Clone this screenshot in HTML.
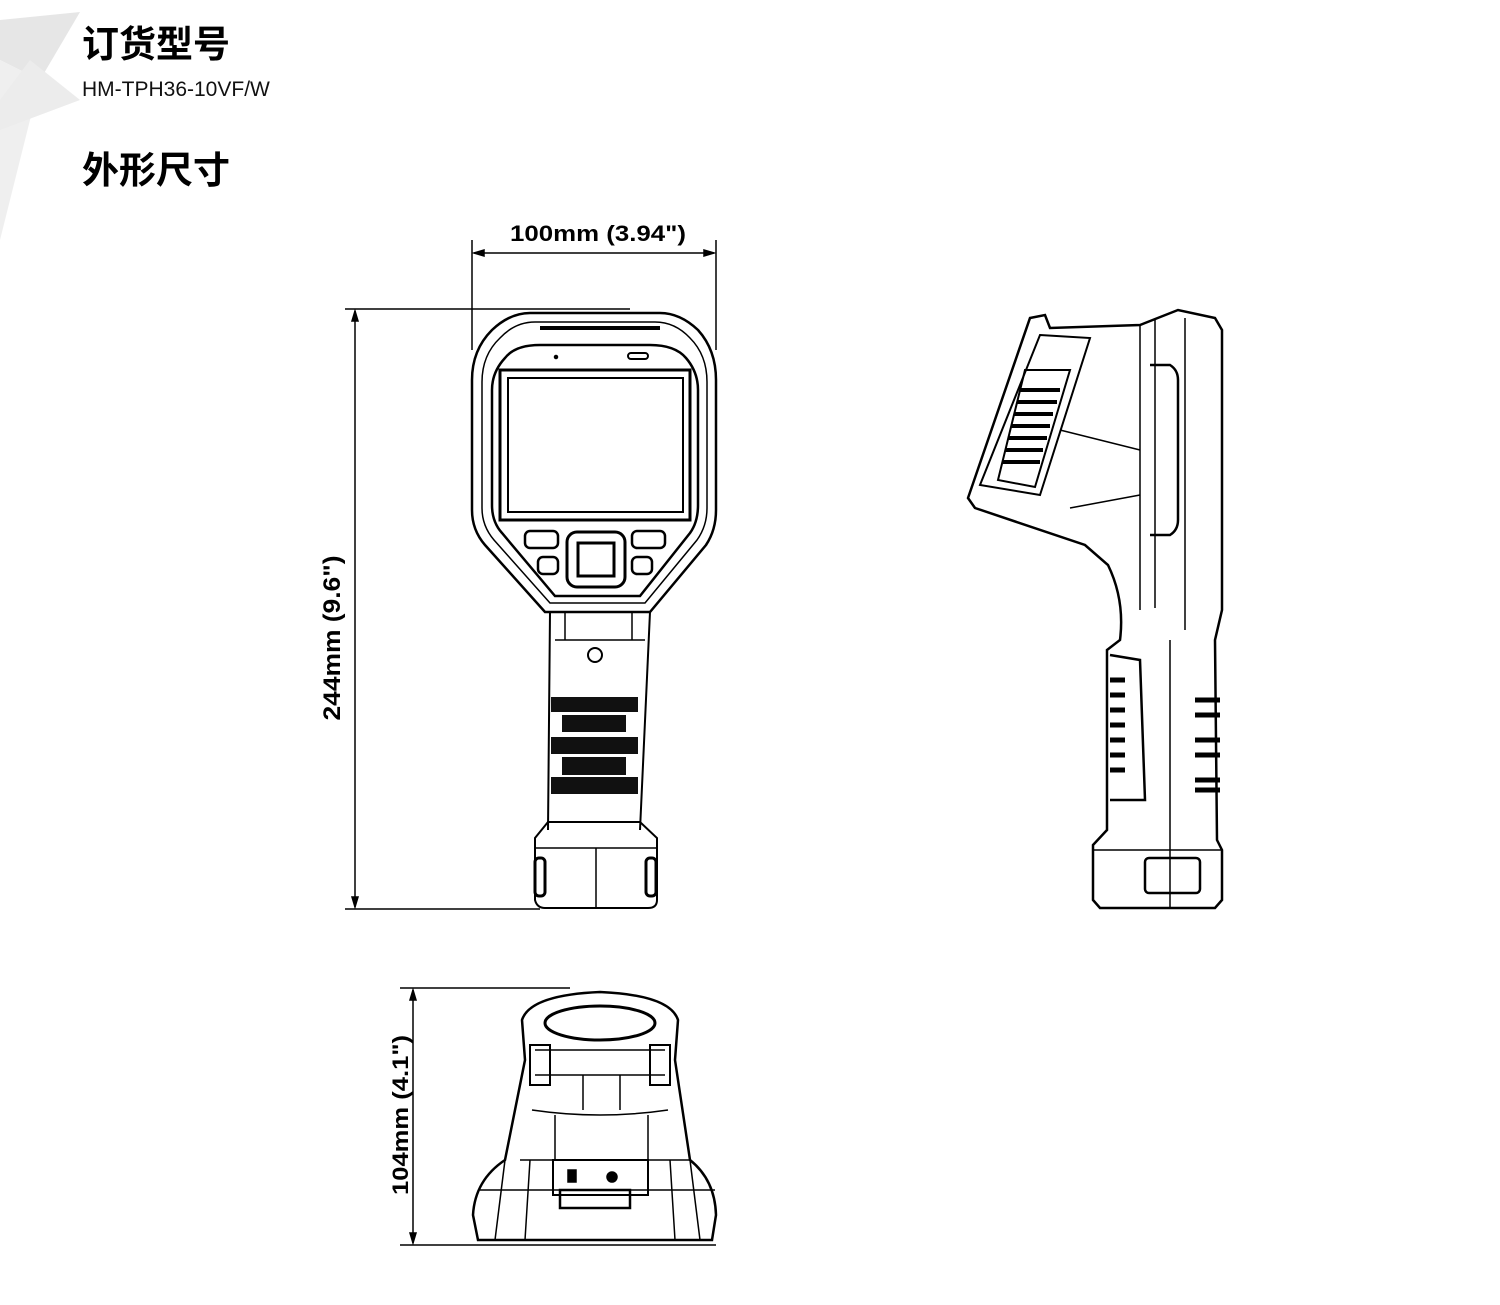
<!DOCTYPE html>
<html><head><meta charset="utf-8"><style>
html,body{margin:0;padding:0;background:#fff;width:1500px;height:1305px;overflow:hidden}
svg{position:absolute;left:0;top:0}
.t1{position:absolute;left:82px;font-family:"Liberation Sans","Noto Sans CJK SC",sans-serif;font-weight:bold;font-size:37px;color:#000;line-height:1}
.t2{position:absolute;left:82px;top:78px;font-family:"Liberation Sans","Noto Sans CJK SC",sans-serif;font-size:21px;color:#111}
</style></head><body>
<svg width="1500" height="1305" viewBox="0 0 1500 1305">
<g fill="#e6e6e6">
<polygon points="0,20 80,12 40,80 0,60"/>
<polygon points="0,60 40,80 0,240" fill="#efefef"/>
<polygon points="0,100 30,60 80,100 0,130" fill="#ececec"/>
</g>
<g fill="none" stroke="#000" stroke-width="1.5">
<line x1="472" y1="240" x2="472" y2="350"/><line x1="716" y1="240" x2="716" y2="350"/>
<line x1="474" y1="253" x2="714" y2="253"/>
<path d="M474 253 l10 -3 v6z M714 253 l-10 -3 v6z" fill="#000"/>
<line x1="345" y1="309" x2="630" y2="309"/><line x1="345" y1="909" x2="540" y2="909"/>
<line x1="355" y1="311" x2="355" y2="907"/>
<path d="M355 311 l-3 10 h6z M355 907 l-3 -10 h6z" fill="#000"/>
<path d="M530 313 Q510 313 492 330 Q472 350 472 380 L472 510 Q472 530 485 545 L545 612 L650 612 L706 545 Q716 530 716 510 L716 380 Q716 350 698 330 Q680 313 660 313 Z" stroke-width="2.5"/>
<path d="M535 322 Q515 322 500 338 Q482 355 482 382 L482 508 Q482 526 494 540 L550 603 L645 603 L697 540 Q707 526 707 508 L707 382 Q707 355 690 338 Q675 322 655 322 Z"/>
<path d="M540 345 Q515 345 505 358 Q492 372 492 390 L492 505 Q492 522 502 533 L555 596 L640 596 L690 533 Q698 522 698 505 L698 390 Q698 372 686 358 Q675 345 650 345 Z" stroke-width="2.5"/>
<line x1="540" y1="328" x2="660" y2="328" stroke-width="4"/>
<rect x="500" y="370" width="190" height="150" stroke-width="3"/>
<rect x="508" y="378" width="175" height="134" stroke-width="2"/>
<circle cx="556" cy="357" r="1.5" fill="#000"/>
<rect x="628" y="353" width="20" height="6" rx="3" stroke-width="2"/>
<rect x="525" y="531" width="33" height="17" rx="5" stroke-width="2.5"/>
<rect x="538" y="557" width="20" height="17" rx="5" stroke-width="2.5"/>
<rect x="632" y="531" width="33" height="17" rx="5" stroke-width="2.5"/>
<rect x="632" y="557" width="20" height="17" rx="5" stroke-width="2.5"/>
<rect x="567" y="532" width="58" height="55" rx="10" stroke-width="3"/>
<rect x="578" y="543" width="36" height="33" stroke-width="3"/>
<path d="M550 612 L548 830 M650 612 L640 830" stroke-width="2"/>
<line x1="555" y1="640" x2="645" y2="640"/>
<line x1="565" y1="612" x2="565" y2="640"/><line x1="632" y1="612" x2="632" y2="640"/>
<circle cx="595" cy="655" r="7" stroke-width="2"/>
<g fill="#111" stroke="none">
<rect x="551" y="697" width="87" height="15"/><rect x="562" y="715" width="64" height="17"/>
<rect x="551" y="737" width="87" height="17"/><rect x="562" y="757" width="64" height="18"/>
<rect x="551" y="777" width="87" height="17"/>
</g>
<path d="M548 822 L535 838 L535 900 Q537 908 545 908 L648 908 Q657 908 657 900 L657 838 L640 822 Z" stroke-width="2"/>
<line x1="535" y1="848" x2="657" y2="848"/><line x1="596" y1="848" x2="596" y2="908"/>
<rect x="535" y="858" width="10" height="38" rx="4" stroke-width="3"/>
<rect x="646" y="858" width="10" height="38" rx="4" stroke-width="3"/>
<path d="M1030 318 L1045 315 L1050 328 L1140 325 L1178 310 L1215 318 L1222 330 L1222 610 L1215 640 L1217 840 L1222 850 L1222 900 L1215 908 L1100 908 L1093 900 L1093 845 L1107 830 L1107 650 L1120 640 Q1125 600 1108 565 L1085 545 L975 508 L968 498 Z" stroke-width="2.5"/>
<path d="M1040 335 L1090 338 L1040 495 L980 485 Z" stroke-width="2"/>
<path d="M1025 370 L1070 370 L1035 487 L998 480 Z" stroke-width="2"/>
<g stroke-width="4"><line x1="1020" y1="390" x2="1060" y2="390"/><line x1="1017" y1="402" x2="1057" y2="402"/><line x1="1014" y1="414" x2="1053" y2="414"/><line x1="1011" y1="426" x2="1050" y2="426"/><line x1="1008" y1="438" x2="1047" y2="438"/><line x1="1005" y1="450" x2="1043" y2="450"/><line x1="1002" y1="462" x2="1040" y2="462"/></g>
<line x1="1140" y1="325" x2="1140" y2="610"/><line x1="1155" y1="320" x2="1155" y2="608"/>
<line x1="1185" y1="318" x2="1185" y2="630"/>
<path d="M1150 365 L1170 365 Q1178 370 1178 380 L1178 520 Q1178 530 1170 535 L1150 535" stroke-width="2.5"/>
<line x1="1060" y1="430" x2="1140" y2="450"/>
<line x1="1070" y1="508" x2="1140" y2="495"/>
<path d="M1110 655 L1140 660 L1145 800 L1110 800" stroke-width="2.5"/>
<g stroke-width="5"><line x1="1110" y1="680" x2="1125" y2="680"/><line x1="1110" y1="695" x2="1125" y2="695"/><line x1="1110" y1="710" x2="1125" y2="710"/><line x1="1110" y1="725" x2="1125" y2="725"/><line x1="1110" y1="740" x2="1125" y2="740"/><line x1="1110" y1="755" x2="1125" y2="755"/><line x1="1110" y1="770" x2="1125" y2="770"/>
<line x1="1195" y1="700" x2="1220" y2="700"/><line x1="1195" y1="715" x2="1220" y2="715"/><line x1="1195" y1="740" x2="1220" y2="740"/><line x1="1195" y1="755" x2="1220" y2="755"/><line x1="1195" y1="780" x2="1220" y2="780"/><line x1="1195" y1="790" x2="1220" y2="790"/></g>
<line x1="1170" y1="640" x2="1170" y2="908"/>
<line x1="1093" y1="850" x2="1222" y2="850"/>
<rect x="1145" y="858" width="55" height="35" rx="4" stroke-width="2.5"/>
<line x1="400" y1="988" x2="570" y2="988"/><line x1="400" y1="1245" x2="716" y2="1245"/>
<line x1="413" y1="990" x2="413" y2="1243"/>
<path d="M413 990 l-3 10 h6z M413 1243 l-3 -10 h6z" fill="#000"/>
<path d="M525 1060 L522 1020 Q530 995 600 992 Q670 995 678 1020 L675 1060 L690 1160 Q715 1180 716 1215 L712 1240 L478 1240 L473 1215 Q475 1180 505 1160 Z" stroke-width="2.5"/>
<ellipse cx="600" cy="1023" rx="55" ry="17" stroke-width="3"/>
<path d="M535 1050 L665 1050 M535 1075 L665 1075 M532 1110 Q600 1120 668 1110 M520 1160 L690 1160 M480 1190 L715 1190"/>
<rect x="530" y="1045" width="20" height="40" stroke-width="2"/><rect x="650" y="1045" width="20" height="40" stroke-width="2"/>
<rect x="553" y="1160" width="95" height="35" stroke-width="2"/>
<rect x="560" y="1190" width="70" height="18" stroke-width="2.5"/>
<path d="M583 1075 V1110 M620 1075 V1110 M555 1115 V1160 M648 1115 V1160 M505 1160 L495 1240 M690 1160 L700 1240 M530 1160 L525 1240 M670 1160 L675 1240"/>
<rect x="568" y="1170" width="8" height="12" fill="#000"/><circle cx="612" cy="1177" r="5" fill="#000"/>
</g>
<g font-family="Liberation Sans, sans-serif" font-weight="bold" fill="#000">
<text x="598" y="241" font-size="22" text-anchor="middle" textLength="176" lengthAdjust="spacingAndGlyphs">100mm (3.94")</text>
<text transform="translate(340,638) rotate(-90)" font-size="24" text-anchor="middle" textLength="165" lengthAdjust="spacingAndGlyphs">244mm (9.6")</text>
<text transform="translate(408,1115) rotate(-90)" font-size="22" text-anchor="middle" textLength="160" lengthAdjust="spacingAndGlyphs">104mm (4.1")</text>
</g>
</svg>
<div class="t1" style="top:26px">订货型号</div>
<div class="t2">HM-TPH36-10VF/W</div>
<div class="t1" style="top:152px">外形尺寸</div>
</body></html>
